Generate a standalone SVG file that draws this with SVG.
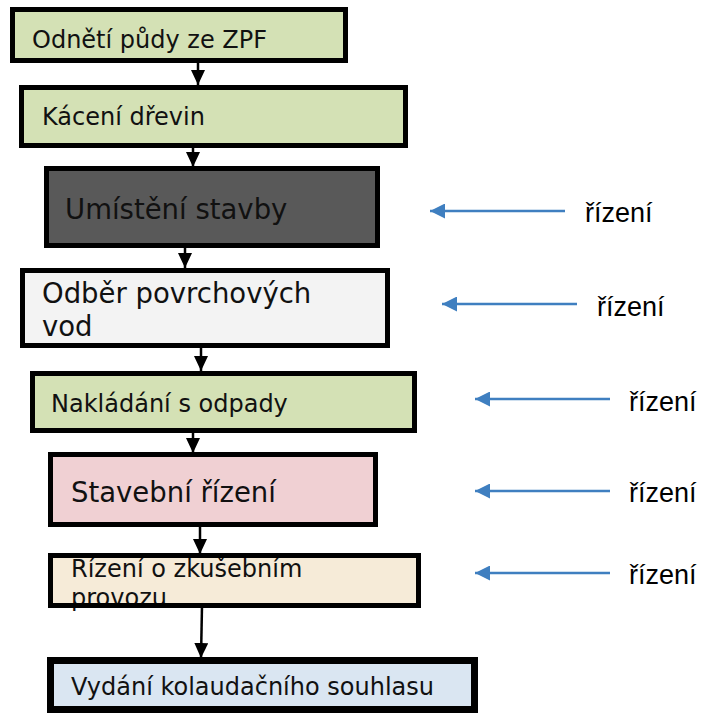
<svg xmlns="http://www.w3.org/2000/svg" width="703" height="713" viewBox="0 0 703 713">
<style>
.box{stroke:#000;stroke-width:5;fill:none}
.t{font-family:"DejaVu Sans","Verdana",sans-serif;fill:#111}
.s{font-size:24px}
.l{font-size:27.5px}
.r{font-family:"Liberation Sans","Arial",sans-serif;font-size:27px;fill:#000}
.k{stroke:#000;stroke-width:2.5;fill:none}
.b{stroke:#3f7fc0;stroke-width:2.6;fill:none}
</style>
<defs>
<marker id="ka" viewBox="0 0 15 14" refX="15" refY="7" markerWidth="15" markerHeight="14" markerUnits="userSpaceOnUse" orient="auto">
<path d="M0,0 L15,7 L0,14 Z" fill="#000"/>
</marker>
<marker id="ba" viewBox="0 0 15 15" refX="15" refY="7.5" markerWidth="15" markerHeight="15" markerUnits="userSpaceOnUse" orient="auto">
<path d="M0,0 L15,7.5 L0,15 Z" fill="#3f7fc0"/>
</marker>
</defs>
<g id="connectors">
<line class="k" x1="198" y1="60" x2="198" y2="85" marker-end="url(#ka)"/>
<line class="k" x1="193" y1="146" x2="193" y2="167" marker-end="url(#ka)"/>
<line class="k" x1="185" y1="246" x2="185" y2="268" marker-end="url(#ka)"/>
<line class="k" x1="201" y1="346" x2="201" y2="371" marker-end="url(#ka)"/>
<line class="k" x1="193" y1="431" x2="193" y2="453" marker-end="url(#ka)"/>
<line class="k" x1="200" y1="525" x2="200" y2="554" marker-end="url(#ka)"/>
<line class="k" x1="202" y1="606" x2="201" y2="658" marker-end="url(#ka)"/>
<line class="b" x1="565" y1="211" x2="430" y2="211" marker-end="url(#ba)"/>
<line class="b" x1="577" y1="304" x2="442" y2="304" marker-end="url(#ba)"/>
<line class="b" x1="610" y1="399" x2="475" y2="399" marker-end="url(#ba)"/>
<line class="b" x1="610" y1="491" x2="475" y2="491" marker-end="url(#ba)"/>
<line class="b" x1="610" y1="573" x2="475" y2="573" marker-end="url(#ba)"/>
</g>
<g id="n1">
<rect x="12.5" y="9.5" width="333" height="51" fill="#d4e1b5"/>
<text class="t s" x="32" y="48">Odnětí půdy ze ZPF</text>
<rect class="box" x="12.5" y="9.5" width="333" height="51"/>
</g>
<g id="n2">
<rect x="21.5" y="87.5" width="384" height="58" fill="#d4e1b5"/>
<text class="t s" x="42" y="125">Kácení dřevin</text>
<rect class="box" x="21.5" y="87.5" width="384" height="58"/>
</g>
<g id="n3">
<rect x="46.5" y="168.5" width="331" height="77" fill="#595959"/>
<text class="t l" x="65" y="219">Umístění stavby</text>
<rect class="box" x="46.5" y="168.5" width="331" height="77"/>
</g>
<g id="n4">
<rect x="22.5" y="270.5" width="365" height="75" fill="#f3f3f3"/>
<text class="t l" x="42" y="303">Odběr povrchových</text>
<text class="t l" x="42" y="336">vod</text>
<rect class="box" x="22.5" y="270.5" width="365" height="75"/>
</g>
<g id="n5">
<rect x="32.5" y="373.5" width="382" height="57" fill="#d4e1b5"/>
<text class="t s" x="51" y="412">Nakládání s odpady</text>
<rect class="box" x="32.5" y="373.5" width="382" height="57"/>
</g>
<g id="n6">
<rect x="50.5" y="454.5" width="325" height="70" fill="#f0d0d3"/>
<text class="t l" x="71" y="502">Stavební řízení</text>
<rect class="box" x="50.5" y="454.5" width="325" height="70"/>
</g>
<g id="n7">
<rect x="50.5" y="555.5" width="368" height="50" fill="#f6ebd8"/>
<text class="t s" x="71" y="577">Řízení o zkušebním</text>
<text class="t s" x="71" y="606">provozu</text>
<rect class="box" x="50.5" y="555.5" width="368" height="50"/>
</g>
<g id="n8">
<rect x="50.5" y="660.5" width="424" height="49" fill="#dae6f2"/>
<text class="t s" x="71" y="695">Vydání kolaudačního souhlasu</text>
<rect class="box" x="50.5" y="660.5" width="424" height="49" style="stroke-width:7"/>
</g>
<g id="labels">
<text class="r" x="585" y="222">řízení</text>
<text class="r" x="597" y="316">řízení</text>
<text class="r" x="629" y="411">řízení</text>
<text class="r" x="629" y="502">řízení</text>
<text class="r" x="629" y="584">řízení</text>
</g>
</svg>
